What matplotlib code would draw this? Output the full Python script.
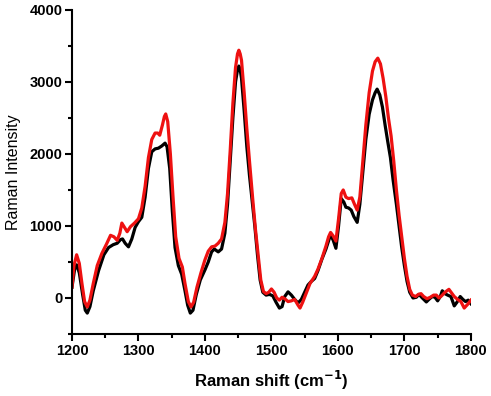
import matplotlib
matplotlib.use("Agg")
import matplotlib.pyplot as plt
from matplotlib.ticker import MultipleLocator

plt.rcParams['font.family'] = ['Liberation Sans', 'DejaVu Sans']

# black spectrum
shift_black = [1200, 1204, 1207, 1211, 1216, 1220, 1223, 1227, 1232, 1240, 1248, 1255, 1262, 1268,
               1273, 1276, 1280, 1285, 1290, 1295, 1300, 1305, 1310, 1315, 1320, 1325, 1330, 1335,
               1340, 1343, 1347, 1351, 1355, 1360, 1365, 1370, 1374, 1378, 1382, 1387, 1393, 1400,
               1405, 1410, 1414, 1420, 1425, 1430, 1434, 1438, 1442, 1446, 1449, 1451, 1453, 1455,
               1459, 1463, 1467, 1471, 1475, 1479, 1483, 1487, 1492, 1497, 1502, 1507, 1512, 1516,
               1520, 1525, 1530, 1535, 1540, 1545, 1550, 1555, 1560, 1565, 1570, 1576, 1582, 1589,
               1593, 1597, 1601, 1605, 1609, 1612, 1616, 1620, 1624, 1629, 1633, 1637, 1642, 1647,
               1652, 1656, 1659, 1663, 1667, 1671, 1675, 1679, 1683, 1688, 1692, 1696, 1700, 1704,
               1708, 1713, 1718, 1722, 1727, 1733, 1738, 1742, 1746, 1750, 1754, 1757, 1761, 1765,
               1770, 1775, 1779, 1784, 1788, 1792, 1796, 1800]
int_black = [150, 400, 460, 350, 50, -170, -210, -120, 100, 380, 600, 700, 740, 760,
             810, 820, 760, 710, 820, 980, 1060, 1120, 1400, 1800, 2030, 2070, 2080, 2110,
             2150, 2100, 1800, 1200, 700, 450, 330, 100, -100, -210, -170, 50, 250, 390,
             500, 640, 680, 640, 680, 900, 1300, 1900, 2500, 3000, 3170, 3220, 3170, 3050,
             2600, 2100, 1700, 1350, 1000, 600, 250, 80, 40, 50, 30, -60, -140, -120,
             20, 85, 40, -20, -70, -20, 80, 180, 230, 270, 380, 540, 680, 880,
             800, 690, 1000, 1380, 1330, 1260, 1250, 1220, 1130, 1050, 1300, 1700, 2200, 2550,
             2750, 2850, 2900, 2820, 2650, 2400, 2170, 1950, 1640, 1300, 1000, 700, 450, 230,
             80, 0, 10, 50, 0, -55, -10, 20, 10, -40, 20, 100, 60, 40,
             20, -110, -60, 20, -20, -50, -30, -80]

# red spectrum
shift_red = [1200, 1203, 1207, 1211, 1215, 1219, 1223, 1227, 1232, 1238, 1245, 1252, 1258, 1263,
             1268, 1272, 1275, 1279, 1283, 1288, 1294, 1300, 1305, 1310, 1315, 1320, 1325, 1329,
             1332, 1336, 1339, 1341, 1344, 1348, 1352, 1356, 1361, 1366, 1370, 1375, 1379, 1383,
             1388, 1394, 1400, 1405, 1410, 1415, 1420, 1425, 1430, 1434, 1438, 1442, 1446, 1449,
             1451, 1453, 1455, 1459, 1463, 1467, 1472, 1476, 1480, 1484, 1488, 1492, 1496, 1500,
             1504, 1508, 1512, 1516, 1520, 1525, 1530, 1535, 1540, 1543, 1547, 1552, 1558, 1565,
             1570, 1576, 1582, 1586, 1589, 1593, 1597, 1601, 1605, 1608, 1612, 1616, 1621, 1625,
             1629, 1633, 1637, 1642, 1647, 1652, 1656, 1660, 1664, 1668, 1672, 1676, 1680, 1684,
             1688, 1692, 1696, 1700, 1704, 1708, 1712, 1717, 1721, 1725, 1729, 1734, 1739, 1744,
             1748, 1752, 1756, 1760, 1764, 1767, 1771, 1775, 1780, 1785, 1790, 1795, 1800]
int_red = [150, 450, 600, 480, 200, -50, -125, -30, 200, 450, 620, 750, 870, 850,
           800, 900, 1040, 980, 920, 990, 1040, 1100, 1250, 1550, 1950, 2200, 2290, 2290,
           2260, 2400, 2520, 2555, 2450, 2000, 1400, 850, 550, 430, 200, -50, -125, -60,
           150, 350, 530, 650, 710, 720, 760, 820, 1050, 1450, 2050, 2700, 3200, 3390,
           3440, 3390, 3300, 2850, 2350, 1900, 1360, 950, 600, 250, 90, 60, 80, 125,
           80, 0, -30, 10, -10, -50, -40, -20, -100, -140, -60, 60, 200, 300,
           400, 550, 720, 850, 910, 860, 790, 1100, 1450, 1500, 1400, 1380, 1390, 1300,
           1220, 1400, 1850, 2400, 2850, 3150, 3280, 3330, 3250, 3050, 2800, 2500, 2250, 1900,
           1500, 1150, 850, 550, 300, 120, 40, 20, 50, 60, 20, -10, 10, 40,
           40, 0, 30, 70, 100, 120, 70, 20, -20, -50, -140, -90, -30]

fig = plt.figure(figsize=(4.91, 3.96), dpi=100)
ax = fig.add_axes([0.1466, 0.1566, 0.8124, 0.8184])

ax.plot(shift_black, int_black, color='black', lw=2.3, solid_joinstyle='round')
ax.plot(shift_red, int_red, color='#ee1111', lw=2.3, solid_joinstyle='round')

ax.set_xlim(1200, 1800)
ax.set_ylim(-500, 4000)
ax.xaxis.set_major_locator(MultipleLocator(100))
ax.xaxis.set_minor_locator(MultipleLocator(50))
ax.yaxis.set_major_locator(MultipleLocator(1000))
ax.yaxis.set_minor_locator(MultipleLocator(500))

for s in ['top', 'right']:
    ax.spines[s].set_visible(False)
for s in ['left', 'bottom']:
    ax.spines[s].set_linewidth(1.5)

ax.tick_params(which='major', direction='out', length=5, width=1.5, labelsize=10.5, pad=2)
ax.tick_params(which='minor', direction='out', length=3, width=1.5)
for lab in ax.get_xticklabels() + ax.get_yticklabels():
    lab.set_fontweight('bold')

ax.set_xlabel('Raman shift (cm$^{\\mathbf{-1}}$)', fontsize=12, fontweight='bold', labelpad=8)
ax.set_ylabel('Raman Intensity', fontsize=11.5, labelpad=6)

fig.savefig('out.png', dpi=100)
